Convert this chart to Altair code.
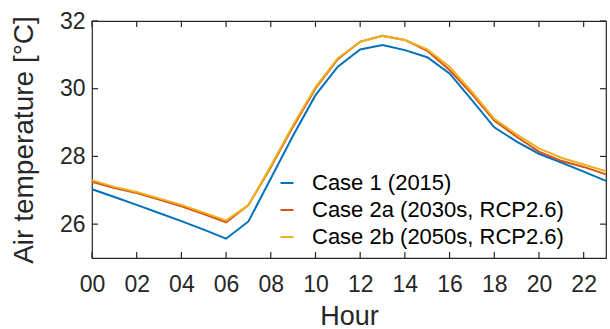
import altair as alt
import pandas as pd

hours = list(range(24))
case1 = [27.03, 26.80, 26.57, 26.33, 26.09, 25.84, 25.57, 26.08, 27.35, 28.62, 29.81, 30.65,
         31.16, 31.29, 31.14, 30.93, 30.45, 29.66, 28.86, 28.44, 28.08, 27.82, 27.55, 27.28]
case2a = [27.25, 27.07, 26.92, 26.73, 26.53, 26.30, 26.05, 26.56, 27.68, 28.88, 30.01, 30.87,
          31.39, 31.56, 31.44, 31.12, 30.55, 29.84, 29.06, 28.58, 28.14, 27.87, 27.69, 27.47]
case2b = [27.30, 27.10, 26.95, 26.76, 26.57, 26.34, 26.11, 26.56, 27.72, 28.93, 30.05, 30.90,
          31.38, 31.56, 31.44, 31.16, 30.65, 29.91, 29.11, 28.65, 28.24, 27.96, 27.76, 27.56]
cases = ["Case 1 (2015)", "Case 2a (2030s, RCP2.6)", "Case 2b (2050s, RCP2.6)"]
colors = ["#0072BD", "#D95319", "#EDB120"]
x_ticks = list(range(0, 24, 2))
y_ticks = [26, 28, 30, 32]

rows = []
for name, vals in zip(cases, [case1, case2a, case2b]):
    for h, v in zip(hours, vals):
        rows.append({"hour": h, "temp": v, "case": name})
df = pd.DataFrame(rows)

W, H = 514, 237
FONT = "Liberation Sans"
INK = "#262626"
xscale = alt.Scale(domain=[0, 23], nice=False, zero=False)
yscale = alt.Scale(domain=[25, 32], nice=False, zero=False)

lines = alt.Chart(df).mark_line(strokeWidth=2).encode(
    x=alt.X("hour:Q", scale=xscale,
            axis=alt.Axis(values=x_ticks, format="02d", title="Hour",
                          labelFontSize=23, titleFontSize=27, labelPadding=15,
                          titlePadding=7, labelColor=INK, titleColor=INK,
                          labelFlush=False, labelOverlap=False,
                          labelFont=FONT, titleFont=FONT, titleFontWeight="normal")),
    y=alt.Y("temp:Q", scale=yscale,
            axis=alt.Axis(values=y_ticks, title="Air temperature [°C]",
                          labelFontSize=23, titleFontSize=28, labelPadding=7,
                          titlePadding=21, labelColor=INK, titleColor=INK,
                          labelFlush=False,
                          labelFont=FONT, titleFont=FONT, titleFontWeight="normal")),
    color=alt.Color("case:N", scale=alt.Scale(domain=cases, range=colors),
                    legend=alt.Legend(title=None, orient="none", legendX=184, legendY=151,
                                      symbolType="stroke", symbolSize=169,
                                      symbolStrokeWidth=2, labelFontSize=22,
                                      labelFont=FONT, labelColor="#000000",
                                      labelLimit=500,
                                      labelOffset=14, rowPadding=5, padding=0)),
    order=alt.Order("case:N"),
)

xt_df = pd.DataFrame({"t": x_ticks})
yt_df = pd.DataFrame({"t": y_ticks})
tick_style = dict(color=INK, strokeWidth=1.2)
xb = alt.Chart(xt_df).mark_rule(**tick_style).encode(
    x=alt.X("t:Q", scale=xscale, axis=None), y=alt.value(H), y2=alt.value(H - 6))
xtp = alt.Chart(xt_df).mark_rule(**tick_style).encode(
    x=alt.X("t:Q", scale=xscale, axis=None), y=alt.value(0), y2=alt.value(6))
yl = alt.Chart(yt_df).mark_rule(**tick_style).encode(
    y=alt.Y("t:Q", scale=yscale, axis=None), x=alt.value(0), x2=alt.value(6))
yr = alt.Chart(yt_df).mark_rule(**tick_style).encode(
    y=alt.Y("t:Q", scale=yscale, axis=None), x=alt.value(W), x2=alt.value(W - 6))

chart = alt.layer(lines, xb, xtp, yl, yr).resolve_axis(
    x="independent", y="independent"
).properties(
    width=W, height=H,
    autosize=alt.AutoSizeParams(type="none"),
    padding={"left": 92, "top": 21, "right": 4, "bottom": 71},
    background="white",
).configure_view(stroke=INK, strokeWidth=1.2).configure_axis(
    domain=False, ticks=False, grid=False)

chart.save("out.html", embed_options={"renderer": "svg", "actions": False})
